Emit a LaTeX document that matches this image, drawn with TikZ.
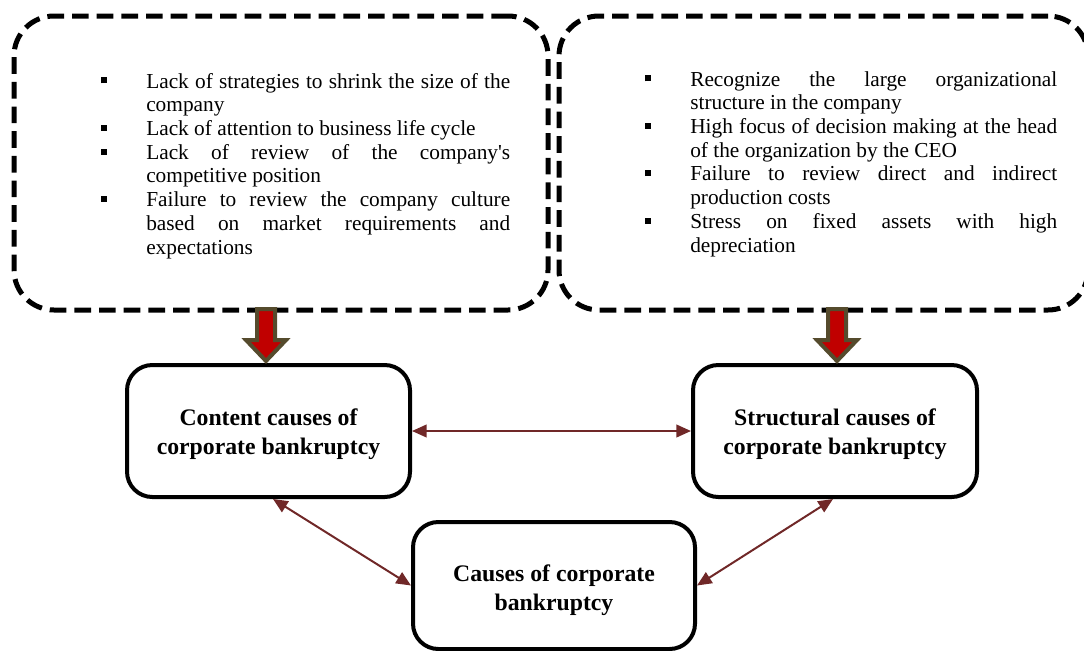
\documentclass[tikz,border=0pt]{standalone}
\usepackage{fontspec}
\setmainfont{Liberation Serif}
\usetikzlibrary{arrows.meta,calc}
\definecolor{linkred}{RGB}{112,40,40}
\definecolor{blockred}{RGB}{192,0,0}
\definecolor{blockedge}{RGB}{85,75,45}
\newcommand{\sqbullet}{\makebox[33.75pt][l]{\rule[0.22em]{0.28em}{0.28em}}}
\newcommand{\bitem}[1]{\par\noindent\hangindent=33.75pt\hangafter=1\sqbullet #1\par}
\newcommand{\topgap}[1]{\rule{0pt}{#1}}
\begin{document}
\begin{tikzpicture}[x=0.75pt,y=-0.75pt,
  dashbox/.style={draw, line width=3.75pt, dash pattern=on 12.5pt off 6pt, rounded corners=30pt, inner sep=0pt},
  causebox/.style={draw, line width=3pt, rounded corners=19pt, align=center, fill=white,
    font=\bfseries\fontsize{17.8}{21.75}\selectfont},
  listtext/.style={anchor=north west, inner sep=0pt, align=justify,
    font=\fontsize{16}{17.8}\selectfont},
  link/.style={draw=linkred, line width=1.5pt,
    {Triangle[length=11pt,width=9.5pt,fill=linkred]}-{Triangle[length=11pt,width=9.5pt,fill=linkred]}},
  blockarrow/.style={fill=blockred, draw=blockedge, line width=3pt, line join=miter}]
\useasboundingbox (0,0) rectangle (1084,650);

% dashed groups
\node[dashbox, minimum width=400.5pt, minimum height=220.5pt] (LG) at (281,163) {};
\node[dashbox, minimum width=396.75pt, minimum height=220.5pt] (RG) at (823.5,163) {};

% bullet lists
\node[listtext, text width=306.75pt] (LT) at (101,64) {%
\bitem{Lack of strategies to shrink the size of the\linebreak company}%
\bitem{Lack of attention to business life cycle}%
\bitem{Lack of review of the company\textquotesingle s\linebreak competitive position}%
\bitem{Failure to review the company culture\linebreak based on market requirements and\linebreak expectations}};
\node[listtext, text width=309pt] (RT) at (645,62) {%
\bitem{Recognize the large organizational\linebreak structure in the company}%
\bitem{High focus of decision making at the head\linebreak of the organization by the CEO}%
\bitem{Failure to review direct and indirect\linebreak production costs}%
\bitem{Stress on fixed assets with high\linebreak depreciation}};

% cause boxes
\node[causebox, minimum width=212.25pt, minimum height=99pt] (C) at (268.5,431) {\topgap{18pt}Content causes of\\corporate bankruptcy};
\node[causebox, minimum width=213pt, minimum height=99pt] (S) at (835,431) {\topgap{18pt}Structural causes of\\corporate bankruptcy};
\node[causebox, minimum width=211.5pt, minimum height=95.25pt] (B) at (554,585.5) {\topgap{20pt}Causes of corporate\\bankruptcy};

% block arrows
\coordinate (la) at (266,309);
\coordinate (ra) at (837,309);
\draw[blockarrow] (la) ++(-9,0) -- ++(0,31) -- ++(-11,0) -- ++(20,21) -- ++(20,-21) -- ++(-11,0) -- ++(0,-31) -- cycle;
\draw[blockarrow] (ra) ++(-9,0) -- ++(0,31) -- ++(-11,0) -- ++(20,21) -- ++(20,-21) -- ++(-11,0) -- ++(0,-31) -- cycle;

% links
\draw[link] (C.east) -- (S.west);
\draw[link] ($(C.south)+(4.5,0)$) -- (B.west);
\draw[link] ($(S.south)+(-2,0)$) -- (B.east);
\end{tikzpicture}
\end{document}
